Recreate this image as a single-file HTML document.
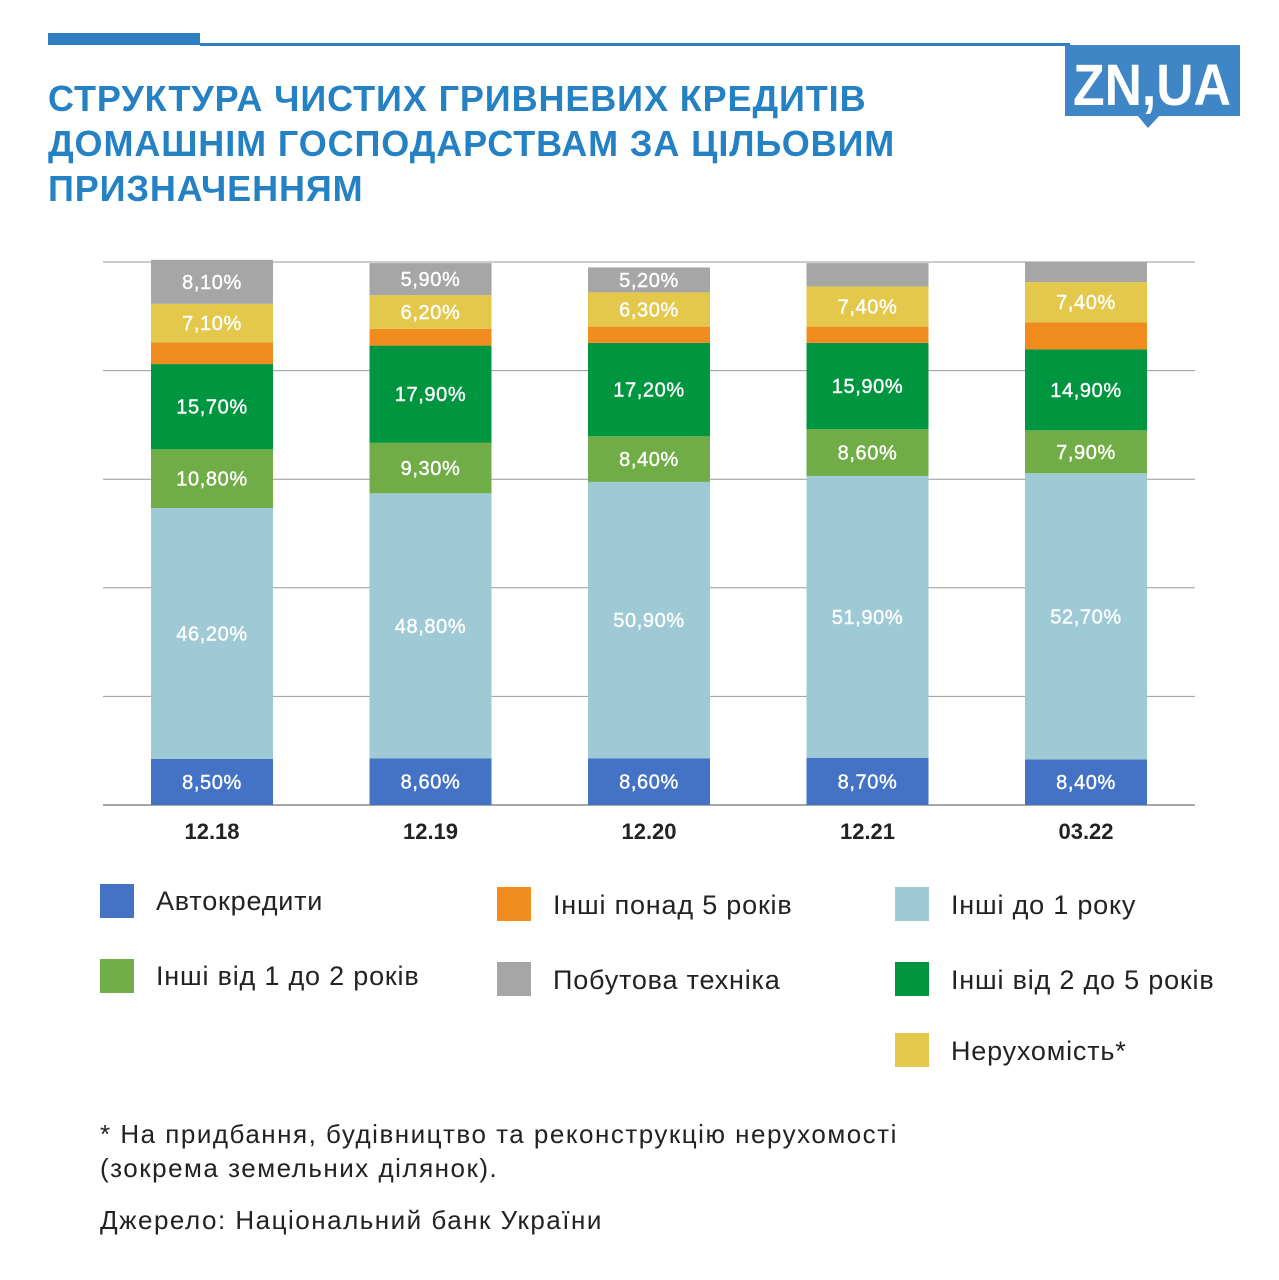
<!DOCTYPE html>
<html><head><meta charset="utf-8"><style>
body{margin:0;width:1279px;height:1280px;background:#fff;font-family:"Liberation Sans","DejaVu Sans",sans-serif;position:relative;overflow:hidden}
.title{position:absolute;left:48px;top:76px;color:#2481c3;font-weight:bold;font-size:36px;line-height:45px;letter-spacing:0.9px}
.leg{position:absolute;font-size:27px;color:#222;letter-spacing:0.8px}
.sq{position:absolute;width:34px;height:34px}
.foot{position:absolute;left:100px;font-size:26px;color:#222;line-height:34px;letter-spacing:1.5px}
</style></head><body>
<div style="position:absolute;left:48px;top:33px;width:152px;height:12px;background:#2e7fc2"></div>
<div style="position:absolute;left:200px;top:43px;width:870px;height:3px;background:#2e7fc2"></div>
<svg style="position:absolute;left:1060px;top:40px" width="190" height="95">
<rect x="5" y="5" width="175" height="71" fill="#3f86c6"/>
<polygon points="77,75 100,75 88,88" fill="#3f86c6"/>
<text x="92" y="65" text-anchor="middle" font-family="Liberation Sans" font-weight="bold" font-size="58" fill="#fff" textLength="158" lengthAdjust="spacingAndGlyphs">ZN,UA</text>
</svg>
<div class="title">СТРУКТУРА ЧИСТИХ ГРИВНЕВИХ КРЕДИТІВ<br>ДОМАШНІМ ГОСПОДАРСТВАМ ЗА ЦІЛЬОВИМ<br>ПРИЗНАЧЕННЯМ</div>
<svg id="chart" style="position:absolute;left:0;top:0" width="1279" height="870"></svg>

<div class="sq" style="left:100px;top:884px;background:#4472c4"></div>
<div class="leg" style="left:156px;top:886px">Автокредити</div>
<div class="sq" style="left:497px;top:887px;background:#f08c1e"></div>
<div class="leg" style="left:553px;top:890px">Інші понад 5 років</div>
<div class="sq" style="left:895px;top:887px;background:#9ecad6"></div>
<div class="leg" style="left:951px;top:890px">Інші до 1 року</div>
<div class="sq" style="left:100px;top:959px;background:#70ad47"></div>
<div class="leg" style="left:156px;top:961px">Інші від 1 до 2 років</div>
<div class="sq" style="left:497px;top:962px;background:#a6a6a6"></div>
<div class="leg" style="left:553px;top:965px">Побутова техніка</div>
<div class="sq" style="left:895px;top:962px;background:#00953f"></div>
<div class="leg" style="left:951px;top:965px">Інші від 2 до 5 років</div>
<div class="sq" style="left:895px;top:1033px;background:#e3c84b"></div>
<div class="leg" style="left:951px;top:1036px">Нерухомість*</div>

<div class="foot" style="top:1117px">* На придбання, будівництво та реконструкцію нерухомості<br>(зокрема земельних ділянок).</div>
<div class="foot" style="top:1203px">Джерело: Національний банк України</div>
<script>
const categories=["12.18","12.19","12.20","12.21","03.22"];
const auto=[8.5,8.6,8.6,8.7,8.4];
const under1=[46.2,48.8,50.9,51.9,52.7];
const y1to2=[10.8,9.3,8.4,8.6,7.9];
const y2to5=[15.7,17.9,17.2,15.9,14.9];
const over5=[4.0,3.1,3.0,3.0,5.0];
const realty=[7.1,6.2,6.3,7.4,7.4];
const appliances=[8.1,5.9,4.6,4.3,3.7];
const labels={auto:["8,50%","8,60%","8,60%","8,70%","8,40%"],under1:["46,20%","48,80%","50,90%","51,90%","52,70%"],y1to2:["10,80%","9,30%","8,40%","8,60%","7,90%"],y2to5:["15,70%","17,90%","17,20%","15,90%","14,90%"],over5:[null,null,null,null,null],realty:["7,10%","6,20%","6,30%","7,40%","7,40%"],appliances:["8,10%","5,90%","5,20%",null,null]};
const yTicks=[0,20,40,60,80,100];
const svg=document.getElementById('chart');const NS='http://www.w3.org/2000/svg';
const y0=805,pxPer=5.43;
const yS=v=>y0-v*pxPer;
const xS=i=>151+i*218.5;const bw=122;
function mk(t,a){const e=document.createElementNS(NS,t);for(const k in a)e.setAttribute(k,a[k]);svg.appendChild(e);return e;}
yTicks.forEach(t=>{const l=mk('line',{x1:103,x2:1195,y1:yS(t),y2:yS(t),stroke:t?'#999':'#888','stroke-width':t?1:1.5});

});
const series=[["auto",auto,"#4472c4"],["under1",under1,"#9ecad6"],["y1to2",y1to2,"#70ad47"],["y2to5",y2to5,"#00953f"],["over5",over5,"#f08c1e"],["realty",realty,"#e3c84b"],["appliances",appliances,"#a6a6a6"]];
categories.forEach((c,i)=>{let acc=0;
series.forEach(([n,vals,col])=>{const v=vals[i];
const r=mk('rect',{x:xS(i),y:yS(acc+v),width:bw,height:v*pxPer,fill:col});


const lb=labels[n][i];if(lb){const t=mk('text',{x:xS(i)+bw/2,y:yS(acc+v/2)+7,'text-anchor':'middle','font-size':20,'letter-spacing':0.6,fill:'#fff',stroke:'#fff','stroke-width':0.4,'font-family':'Liberation Sans'});t.textContent=lb;

}
acc+=v;});
const t=mk('text',{x:xS(i)+bw/2,y:839,'text-anchor':'middle','font-size':22,'font-weight':'bold',fill:'#222','font-family':'Liberation Sans'});t.textContent=c;

});
</script>
</body></html>
